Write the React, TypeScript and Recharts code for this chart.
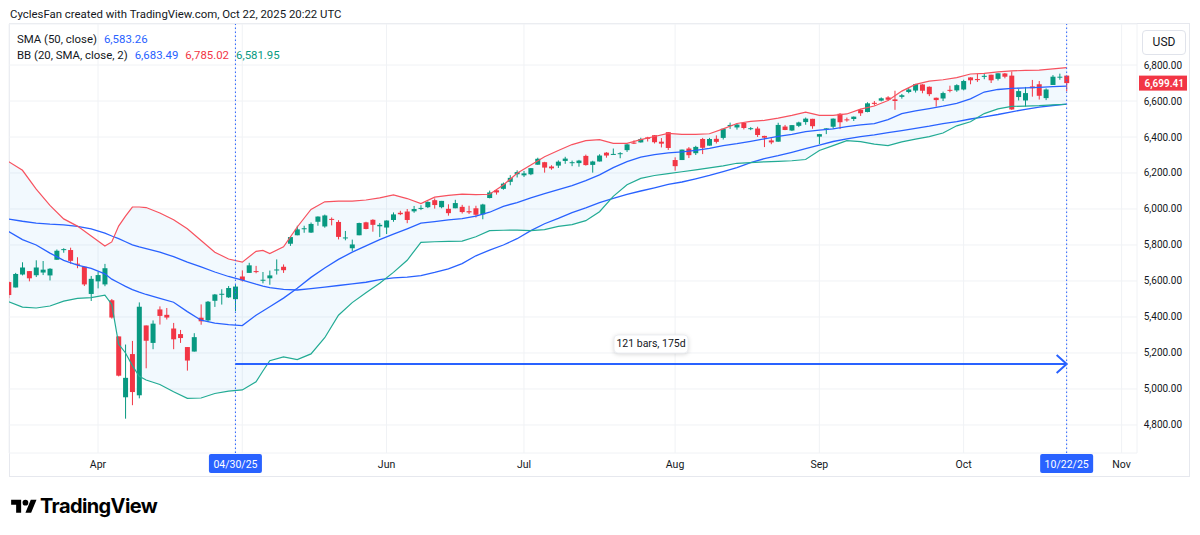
import React from 'react';
import {
  ComposedChart,
  Bar,
  Line,
  Area,
  XAxis,
  YAxis,
  CartesianGrid,
  ReferenceLine,
  ReferenceDot,
} from 'recharts';

// ---------- Candles (index 0 = Mar 13, 2025 ... 154 = Oct 22, 2025) ----------
const opens = [
  5594, 5564, 5636, 5655, 5632, 5647, 5631, 5718, 5775, 5772, 5696, 5679, 5528,
  5598, 5581, 5493, 5292, 4954, 5194, 4965, 5353, 5256, 5442, 5412, 5336, 5305, 5233, 5208, 5396, 5381, 5490, 5529, 5509, 5499,
  5625, 5645, 5655, 5606, 5615, 5664, 5679, 5807, 5854, 5888, 5869, 5929, 5903, 5945, 5928, 5841, 5782, 5854, 5926, 5940, 5904,
  5897, 5939, 5979, 5986, 5987, 6005, 6010, 6049, 6010, 6001, 6004, 6012, 5988, 6004, 5970, 6061, 6104, 6112, 6151, 6193,
  6187, 6193, 6246, 6260, 6236, 6241, 6267, 6256, 6255, 6295, 6245, 6264, 6313, 6305, 6307, 6327, 6369, 6370, 6398, 6410, 6374, 6427,
  6272, 6272, 6336, 6310, 6389, 6352, 6390, 6395, 6461, 6453, 6478, 6445, 6447, 6406, 6381, 6374, 6458, 6436, 6462, 6483, 6501,
  6402, 6446, 6457, 6529, 6498, 6500, 6551, 6539, 6590, 6602, 6620, 6609, 6623, 6650, 6658, 6692, 6679, 6618, 6614, 6662, 6659,
  6664, 6731, 6722, 6734, 6746, 6723, 6753, 6741, 6622, 6603, 6681, 6693, 6616, 6689, 6735, 6741,
];
const highs = [
  5598, 5645, 5704, 5655, 5715, 5711, 5671, 5775, 5782, 5785, 5732, 5679, 5628,
  5651, 5695, 5500, 5292, 5247, 5267, 5481, 5353, 5381, 5459, 5450, 5367, 5328, 5233, 5310, 5470, 5489, 5528, 5554, 5572, 5582,
  5659, 5701, 5684, 5650, 5658, 5720, 5692, 5846, 5907, 5907, 5925, 5959, 5969, 5953, 5938, 5878, 5830, 5924, 5929, 5943, 5922,
  5937, 5981, 5990, 6000, 6017, 6021, 6043, 6059, 6045, 6026, 6051, 6023, 6018, 6018, 6029, 6102, 6109, 6147, 6188, 6215,
  6211, 6228, 6285, 6262, 6243, 6270, 6290, 6269, 6273, 6302, 6268, 6304, 6316, 6336, 6316, 6361, 6381, 6396, 6401, 6410, 6394, 6427,
  6287, 6330, 6344, 6351, 6395, 6395, 6409, 6447, 6480, 6474, 6481, 6455, 6457, 6407, 6393, 6479, 6467, 6466, 6485, 6508, 6501,
  6417, 6449, 6503, 6533, 6508, 6514, 6556, 6593, 6600, 6620, 6627, 6657, 6639, 6672, 6695, 6693, 6681, 6619, 6652, 6685, 6693,
  6718, 6732, 6751, 6750, 6746, 6754, 6756, 6764, 6666, 6678, 6717, 6711, 6670, 6744, 6752, 6741,
];
const lows = [
  5505, 5564, 5631, 5598, 5622, 5633, 5603, 5718, 5757, 5696, 5671, 5572, 5489,
  5559, 5571, 5391, 5070, 4835, 4910, 4948, 5115, 5221, 5358, 5386, 5221, 5256, 5102, 5208, 5357, 5372, 5456, 5469, 5506, 5433,
  5597, 5645, 5643, 5587, 5579, 5636, 5645, 5795, 5854, 5868, 5867, 5907, 5896, 5909, 5831, 5826, 5767, 5854, 5887, 5874, 5844,
  5861, 5929, 5966, 5921, 5979, 5994, 6005, 6002, 6004, 5963, 6004, 5975, 5972, 5953, 5943, 6059, 6080, 6107, 6132, 6175,
  6178, 6188, 6246, 6202, 6218, 6228, 6251, 6238, 6235, 6241, 6202, 6264, 6285, 6304, 6282, 6317, 6361, 6369, 6375, 6364, 6342, 6328,
  6213, 6272, 6283, 6300, 6305, 6352, 6364, 6386, 6445, 6441, 6442, 6438, 6400, 6344, 6360, 6374, 6438, 6433, 6455, 6468, 6446,
  6361, 6416, 6446, 6444, 6485, 6489, 6517, 6537, 6575, 6598, 6601, 6551, 6613, 6643, 6647, 6643, 6627, 6569, 6600, 6648, 6651,
  6659, 6693, 6706, 6721, 6700, 6714, 6726, 6551, 6603, 6569, 6624, 6608, 6605, 6689, 6718, 6654,
];
const closes = [
  5522, 5639, 5675, 5615, 5675, 5663, 5668, 5768, 5777, 5712, 5693, 5581, 5612,
  5633, 5671, 5397, 5074, 5062, 4983, 5457, 5268, 5363, 5406, 5397, 5276, 5283, 5158, 5288, 5376, 5485, 5525, 5529, 5561, 5569,
  5604, 5687, 5650, 5607, 5631, 5664, 5660, 5844, 5887, 5893, 5917, 5958, 5964, 5940, 5845, 5842, 5803, 5922, 5889, 5912, 5912,
  5936, 5970, 5971, 5939, 6000, 6006, 6039, 6022, 6045, 5977, 6033, 5983, 5981, 5968, 6025, 6092, 6092, 6141, 6173, 6205,
  6198, 6227, 6279, 6230, 6226, 6263, 6280, 6260, 6269, 6244, 6264, 6297, 6297, 6306, 6310, 6359, 6363, 6389, 6390, 6371, 6363, 6339,
  6238, 6330, 6299, 6345, 6340, 6389, 6373, 6446, 6467, 6469, 6450, 6449, 6411, 6396, 6370, 6467, 6439, 6466, 6481, 6502, 6460,
  6416, 6448, 6502, 6482, 6495, 6513, 6532, 6587, 6584, 6615, 6607, 6600, 6632, 6664, 6694, 6657, 6638, 6605, 6644, 6661, 6688,
  6711, 6715, 6716, 6740, 6715, 6754, 6735, 6553, 6655, 6644, 6671, 6629, 6664, 6735, 6735, 6699.41,
];

// ---------- Indicator readings (sampled along the bar index) ----------
const bandIdx = [
  0, 2, 4, 6, 8, 10, 12, 14, 15, 16, 17, 18, 19, 20, 22, 24, 26, 28, 30, 32, 34, 36, 37, 38, 40, 42, 44, 46, 48, 50,
  52, 54, 56, 58, 60, 62, 64, 66, 68, 70, 72, 74, 76, 78, 80, 82, 84, 86, 88, 90, 92, 94, 96, 98, 100, 102, 104,
  106, 108, 110, 112, 114, 116, 118, 120, 122, 124, 126, 128, 130, 132, 134, 136, 138, 140, 142, 144, 146, 148,
  150, 152, 154,
];
const bbUpper = [
  6263, 6215, 6110, 6020, 5945, 5905, 5850, 5794, 5817, 5905, 5960, 6011, 6011, 6008, 5978, 5940, 5890, 5825, 5760,
  5722, 5705, 5765, 5770, 5752, 5790, 5900, 5998, 6040, 6044, 6044, 6050, 6062, 6078, 6058, 6030, 6066, 6076, 6083,
  6080, 6082, 6133, 6198, 6245, 6290, 6325, 6358, 6380, 6385, 6365, 6365, 6385, 6403, 6420, 6415, 6415, 6418, 6445,
  6475, 6487, 6492, 6505, 6520, 6538, 6520, 6520, 6528, 6555, 6572, 6603, 6655, 6692, 6710, 6718, 6730, 6750, 6754,
  6762, 6767, 6770, 6772, 6778, 6785,
];
const bbBasis = [
  5874, 5830, 5800, 5755, 5715, 5688, 5670, 5640, 5610, 5590, 5570, 5552, 5538, 5525, 5504, 5482, 5430, 5382, 5366,
  5358, 5352, 5410, 5433, 5457, 5505, 5560, 5620, 5672, 5720, 5760, 5795, 5830, 5860, 5890, 5921, 5930, 5939, 5947,
  5961, 5982, 6015, 6036, 6062, 6085, 6108, 6130, 6158, 6190, 6230, 6263, 6288, 6302, 6312, 6317, 6326, 6337, 6352,
  6363, 6376, 6390, 6403, 6415, 6430, 6438, 6445, 6458, 6467, 6474, 6497, 6530, 6545, 6558, 6571, 6587, 6612, 6650,
  6664, 6670, 6673, 6676, 6680, 6683,
];
const bbLower = [
  5485, 5455, 5450, 5461, 5488, 5503, 5508, 5522, 5470, 5250, 5200, 5130, 5070, 5050, 5025, 4985, 4948, 4950, 4975,
  4988, 4995, 5040, 5100, 5157, 5178, 5163, 5195, 5285, 5410, 5480, 5535, 5587, 5648, 5715, 5815, 5818, 5820, 5822,
  5846, 5880, 5882, 5883, 5880, 5885, 5903, 5913, 5935, 5985, 6070, 6135, 6170, 6186, 6197, 6207, 6217, 6228, 6240,
  6254, 6258, 6262, 6265, 6268, 6275, 6325, 6352, 6380, 6374, 6360, 6352, 6373, 6388, 6402, 6422, 6462, 6485, 6530,
  6556, 6570, 6572, 6574, 6578, 6582,
];
const sma50 = [
  5944, 5932, 5922, 5916, 5912, 5903, 5890, 5866, 5850, 5835, 5818, 5801, 5790, 5780, 5760, 5735, 5705, 5678, 5650,
  5625, 5605, 5582, 5572, 5563, 5553, 5550, 5558, 5566, 5575, 5584, 5593, 5608, 5617, 5622, 5630, 5648, 5668, 5697,
  5740, 5772, 5800, 5835, 5880, 5918, 5948, 5980, 6006, 6035, 6059, 6081, 6100, 6118, 6137, 6150, 6168, 6187, 6208,
  6230, 6258, 6280, 6296, 6315, 6335, 6355, 6375, 6390, 6402, 6412, 6424, 6436, 6448, 6460, 6474, 6485, 6500, 6512,
  6525, 6540, 6554, 6566, 6575, 6583,
];

// ---------- Axis ticks ----------
const timeTickIdx = [13, 33, 34, 55, 75, 97, 118, 139, 154, 162];
const timeTickText = ['Apr', '04/30/25', '', 'Jun', 'Jul', 'Aug', 'Sep', 'Oct', '10/22/25', 'Nov'];
const highlightedTicks = ['04/30/25', '10/22/25'];
const priceTicks = [4800, 5000, 5200, 5400, 5600, 5800, 6000, 6200, 6400, 6600, 6800];

// ---------- Measurement tool ----------
const measureFrom = 33;
const measureTo = 154;
const measurePrice = 5139;
const measureLabelIdx = 93.5;
const measureLabelPrice = 5250;
const measureText = '121 bars, 175d';
const lastPrice = 6699.41;

const GREEN = '#089981';
const RED = '#F23645';
const BLUE = '#2962FF';
const TEXT = '#131722';
const FONT = 'Roboto, "Noto Sans", sans-serif';

const rows = opens.map((o, i) => {
  const bi = bandIdx.indexOf(i);
  const row: any = {
    i,
    o,
    h: highs[i],
    l: lows[i],
    c: closes[i],
    range: [lows[i], highs[i]],
    upper: bi >= 0 ? bbUpper[bi] : null,
    basis: bi >= 0 ? bbBasis[bi] : null,
    lower: bi >= 0 ? bbLower[bi] : null,
    sma: bi >= 0 ? sma50[bi] : null,
    bb: bi >= 0 ? [bbLower[bi], bbUpper[bi]] : null,
    arrow: i === measureFrom || i === measureTo ? measurePrice : null,
  };
  return row;
});

const Candle = (props: any) => {
  const { x, y, width, height, payload } = props;
  if (x == null || y == null || !payload) return <g />;
  const { o, h, l, c } = payload;
  const color = c >= o ? GREEN : RED;
  const cx = x + width / 2;
  const top = Math.min(y, y + height);
  const bottom = Math.max(y, y + height);
  const ratio = (bottom - top) / (h - l || 1);
  const bTop = top + (h - Math.max(o, c)) * ratio;
  const bBot = top + (h - Math.min(o, c)) * ratio;
  return (
    <g>
      <line x1={cx} x2={cx} y1={top} y2={bottom} stroke={color} strokeWidth={1} />
      <rect x={cx - 2.5} y={bTop} width={5} height={Math.max(1, bBot - bTop)} fill={color} />
    </g>
  );
};

const TimeTick = (props: any) => {
  const { x, y, payload } = props;
  const k = timeTickIdx.indexOf(payload.value);
  const text = k >= 0 ? timeTickText[k] : '';
  if (!text) return <g />;
  if (highlightedTicks.includes(text)) {
    return (
      <g>
        <rect x={x - 26.5} y={y + 1} width={53} height={19} rx={2} fill={BLUE} />
        <text x={x} y={y + 14.5} textAnchor="middle" fill="#fff" fontSize={10.5} fontFamily={FONT}>
          {text}
        </text>
      </g>
    );
  }
  return (
    <text x={x} y={y + 15} textAnchor="middle" fill={TEXT} fontSize={10.5} fontFamily={FONT}>
      {text}
    </text>
  );
};

const PriceTick = (props: any) => {
  const { x, y, payload } = props;
  const label = payload.value.toLocaleString('en-US', { minimumFractionDigits: 2, maximumFractionDigits: 2 });
  return (
    <text x={x + 45} y={y + 3.5} textAnchor="end" fill={TEXT} fontSize={10} fontFamily={FONT}>
      {label}
    </text>
  );
};

const LastPriceLabel = (props: any) => {
  const vb = props.viewBox || {};
  const x0 = vb.x + vb.width + 2;
  const y0 = vb.y;
  return (
    <g>
      <rect x={x0} y={y0 - 7.5} width={48} height={15} fill={RED} />
      <text x={x0 + 45} y={y0 + 3.5} textAnchor="end" fill="#fff" fontSize={10} fontWeight={600} fontFamily={FONT}>
        {lastPrice.toLocaleString('en-US', { minimumFractionDigits: 2 })}
      </text>
    </g>
  );
};

const ArrowHead = (props: any) => {
  const { cx, cy, payload } = props;
  if (cx == null || cy == null || !payload || payload.i !== measureTo) return <g key={'d' + (payload ? payload.i : 'x')} />;
  return (
    <path
      key="arrowhead"
      d={`M${cx - 10},${cy - 9} L${cx},${cy} L${cx - 10},${cy + 9}`}
      stroke={BLUE}
      strokeWidth={2}
      fill="none"
    />
  );
};

const MeasureLabel = (props: any) => {
  const { cx, cy } = props;
  return (
    <g>
      <rect x={cx - 37} y={cy - 9} width={74} height={18} rx={4} fill="#fff" stroke="#ECEEF2" strokeWidth={1}
        style={{ filter: 'drop-shadow(0px 1px 2px rgba(0,0,0,0.15))' }} />
      <text x={cx} y={cy + 3.5} textAnchor="middle" fill={TEXT} fontSize={10.5} fontFamily={FONT}>
        {measureText}
      </text>
    </g>
  );
};

const TVLogo = () => (
  <svg width={28} height={20} viewBox="0 0 36 28" style={{ position: 'absolute', left: 10, top: 497 }}>
    <path d="M14 22H7V11H0V4h14v18z" fill="#000" />
    <path d="M28 22h-8l7.5-18h8L28 22z" fill="#000" />
    <circle cx="20" cy="8" r="4" fill="#000" />
  </svg>
);

export default function App() {
  return (
    <div
      style={{
        position: 'absolute',
        left: 0,
        top: 0,
        width: 1200,
        height: 535,
        background: '#fff',
        overflow: 'hidden',
        fontFamily: FONT,
        color: TEXT,
      }}
    >
      <div style={{ position: 'absolute', left: 10, top: 7, fontSize: 11.4, whiteSpace: 'nowrap' }}>
        CyclesFan created with TradingView.com, Oct 22, 2025 20:22 UTC
      </div>
      <div
        style={{
          position: 'absolute',
          left: 9,
          top: 23,
          width: 1181,
          height: 454,
          border: '1px solid #E6E8EE',
          boxSizing: 'border-box',
        }}
      />
      <div style={{ position: 'absolute', left: 0, top: 0 }}>
        <ComposedChart width={1200} height={535} data={rows} margin={{ top: 24, right: 0, bottom: 0, left: 9 }}>
          <CartesianGrid stroke="#F0F2F5" strokeWidth={1} />
          <XAxis
            dataKey="i"
            type="number"
            domain={[0.04, 164.24]}
            allowDataOverflow
            ticks={timeTickIdx}
            interval={0}
            tick={<TimeTick />}
            tickLine={false}
            axisLine={false}
            tickSize={0}
            tickMargin={0}
            height={82}
          />
          <YAxis
            orientation="right"
            type="number"
            domain={[4644.4, 7027.8]}
            allowDataOverflow
            ticks={priceTicks}
            interval={0}
            tick={<PriceTick />}
            tickLine={false}
            axisLine={false}
            tickSize={0}
            tickMargin={0}
            width={63}
          />
          <Area
            dataKey="bb"
            stroke="none"
            fill="#2196F3"
            fillOpacity={0.06}
            connectNulls
            isAnimationActive={false}
            dot={false}
            activeDot={false}
          />
          <Line dataKey="sma" stroke={BLUE} strokeWidth={1.3} dot={false} connectNulls isAnimationActive={false} />
          <Line dataKey="upper" stroke="#F7525F" strokeWidth={1.2} dot={false} connectNulls isAnimationActive={false} />
          <Line dataKey="basis" stroke={BLUE} strokeWidth={1.3} dot={false} connectNulls isAnimationActive={false} />
          <Line dataKey="lower" stroke="#22AB94" strokeWidth={1.2} dot={false} connectNulls isAnimationActive={false} />
          <ReferenceLine x={measureFrom} stroke={BLUE} strokeDasharray="1.5 2.5" strokeWidth={1} />
          <ReferenceLine x={measureTo} stroke={BLUE} strokeDasharray="1.5 2.5" strokeWidth={1} />
          <Bar dataKey="range" shape={<Candle />} isAnimationActive={false} barSize={5} />
          <Line
            dataKey="arrow"
            stroke={BLUE}
            strokeWidth={2}
            connectNulls
            dot={<ArrowHead />}
            activeDot={false}
            isAnimationActive={false}
          />
          <ReferenceDot x={measureLabelIdx} y={measureLabelPrice} shape={<MeasureLabel />} />
          <ReferenceLine y={lastPrice} stroke="none" label={<LastPriceLabel />} />
        </ComposedChart>
      </div>
      <div style={{ position: 'absolute', left: 17, top: 31, fontSize: 11.4, whiteSpace: 'nowrap', lineHeight: '16px' }}>
        <div>
          <span>SMA (50, close)</span>
          <span style={{ color: BLUE, marginLeft: 7 }}>6,583.26</span>
        </div>
        <div>
          <span>BB (20, SMA, close, 2)</span>
          <span style={{ color: BLUE, marginLeft: 7 }}>6,683.49</span>
          <span style={{ color: RED, marginLeft: 7 }}>6,785.02</span>
          <span style={{ color: GREEN, marginLeft: 7 }}>6,581.95</span>
        </div>
      </div>
      <div
        style={{
          position: 'absolute',
          left: 1142,
          top: 30,
          width: 44,
          height: 25,
          border: '1px solid #E0E3EB',
          borderRadius: 4,
          boxSizing: 'border-box',
          fontSize: 12,
          lineHeight: '23px',
          textAlign: 'center',
        }}
      >
        USD
      </div>
      <TVLogo />
      <div
        style={{
          position: 'absolute',
          left: 40,
          top: 494,
          fontSize: 20,
          fontWeight: 700,
          fontFamily: 'Inter, Roboto, sans-serif',
          letterSpacing: -0.6,
          color: '#000',
        }}
      >
        TradingView
      </div>
    </div>
  );
}
